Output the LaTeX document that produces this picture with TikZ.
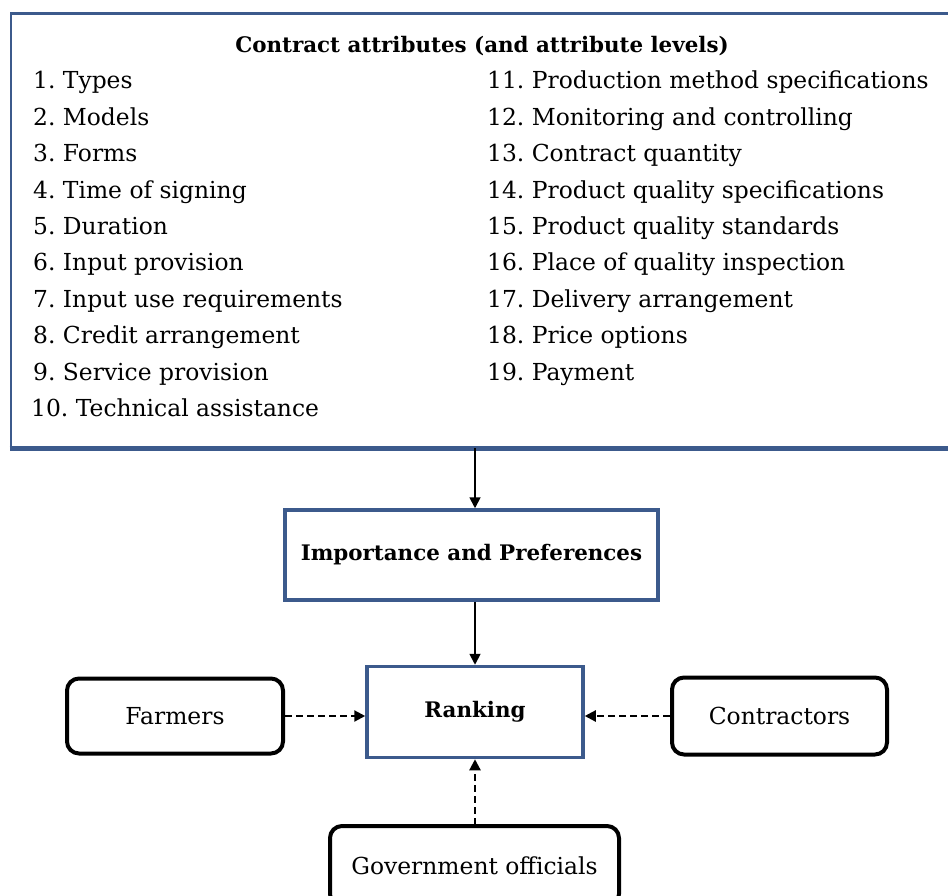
\documentclass[tikz,border=0pt]{standalone}
\usepackage{fontspec}
\setmainfont{DejaVu Serif}
\usetikzlibrary{arrows.meta}
\definecolor{boxblue}{RGB}{60,90,140}
\newcommand{\itemsize}{\fontsize{23.4}{28}\selectfont}
\newcommand{\boldsize}{\fontsize{21.4}{26}\selectfont}
\frenchspacing
\begin{document}
\begin{tikzpicture}[x=1pt,y=-1pt,
  bluebox/.style={draw=boxblue, line width=3.5pt, inner sep=0pt, align=center, font=\boldsize\bfseries},
  roundbox/.style={draw=black, line width=4pt, rounded corners=12pt, inner sep=0pt, align=center, font=\itemsize},
  itemtxt/.style={anchor=base west, inner sep=0pt, font=\itemsize},
  arr/.style={-{Triangle[length=11pt,width=11pt]}, line width=1.8pt},
  darr/.style={arr, line width=2.2pt, dash pattern=on 7pt off 4pt}]
\useasboundingbox (0,0) rectangle (948,896);
\begin{scope}
\clip (0,0) rectangle (948,896);
% top box
\node[draw=boxblue, line width=2.5pt, inner sep=0pt, anchor=north west,
      minimum width=961pt, minimum height=433pt] (attr) at (9.5,12.5) {};
\draw[boxblue, line width=5pt] (attr.south west) -- (attr.south east);
\node[anchor=base, inner sep=0pt, font=\boldsize\bfseries] (title) at (482,53) {Contract attributes (and attribute levels)};
\node[itemtxt] (i1) at (33,89) {1. Types};
\node[itemtxt] (i2) at (33,125.4) {2. Models};
\node[itemtxt] (i3) at (33,161.8) {3. Forms};
\node[itemtxt] (i4) at (33,198.2) {4. Time of signing};
\node[itemtxt] (i5) at (33,234.6) {5. Duration};
\node[itemtxt] (i6) at (33,271) {6. Input provision};
\node[itemtxt] (i7) at (33,307.4) {7. Input use requirements};
\node[itemtxt] (i8) at (33,343.8) {8. Credit arrangement};
\node[itemtxt] (i9) at (33,380.2) {9. Service provision};
\node[itemtxt] (i10) at (31,416.6) {10. Technical assistance};
\node[itemtxt] (i11) at (487,89) {11. Production method specifications};
\node[itemtxt] (i12) at (487,125.4) {12. Monitoring and controlling};
\node[itemtxt] (i13) at (487,161.8) {13. Contract quantity};
\node[itemtxt] (i14) at (487,198.2) {14. Product quality specifications};
\node[itemtxt] (i15) at (487,234.6) {15. Product quality standards};
\node[itemtxt] (i16) at (487,271) {16. Place of quality inspection};
\node[itemtxt] (i17) at (487,307.4) {17. Delivery arrangement};
\node[itemtxt] (i18) at (487,343.8) {18. Price options};
\node[itemtxt] (i19) at (487,380.2) {19. Payment};
% lower boxes
\node[bluebox, minimum width=373pt, minimum height=90pt] (imp) at (471.5,555) {Importance and Preferences};
\node[bluebox, minimum width=216pt, minimum height=91pt] (rank) at (475,712) {Ranking};
\node[roundbox, minimum width=216pt, minimum height=75pt] (farm) at (175,716) {Farmers};
\node[roundbox, minimum width=215pt, minimum height=77pt] (contr) at (779.5,716) {Contractors};
\node[roundbox, minimum width=289pt, minimum height=80pt] (gov) at (474.5,866) {Government officials};
% connectors
\draw[arr] (attr.south -| rank.north) -- (imp.north -| rank.north);
\draw[arr] (imp.south -| rank.north) -- (rank.north);
\draw[darr] (farm.east) -- (farm.east -| rank.west);
\draw[darr] (contr.west) -- (contr.west -| rank.east);
\draw[darr] (gov.north) -- (gov.north -| rank.south) -- (rank.south);
\end{scope}
\end{tikzpicture}
\end{document}
